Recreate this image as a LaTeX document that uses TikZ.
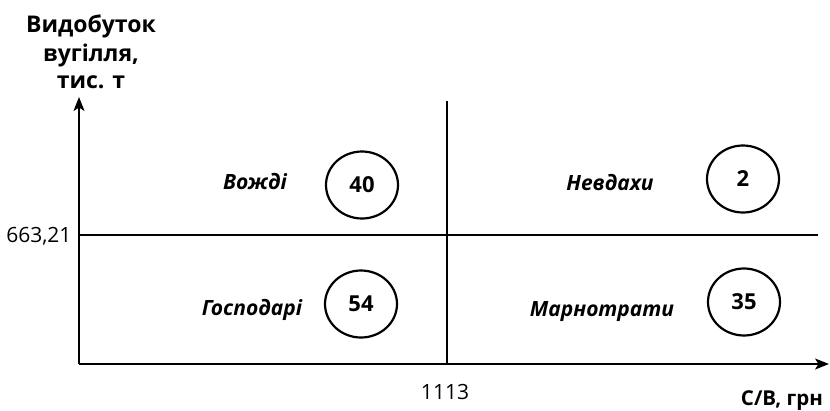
\documentclass[tikz,border=0pt]{standalone}
\usepackage{fontspec}
\setmainfont{Open Sans}
\usetikzlibrary{arrows.meta,shapes.geometric}
\begin{document}
\begin{tikzpicture}[x=1pt,y=-1pt,
  ax/.style={line width=1.4pt},
  arr/.style={ax,-{Stealth[length=14pt,width=11pt,inset=3.5pt]}},
  circ/.style={ellipse,draw,line width=2.2pt,minimum width=72pt,minimum height=67pt,inner sep=0pt,font=\fontsize{22}{26}\selectfont\bfseries},
  quad/.style={font=\fontsize{21}{25}\selectfont\bfseries\itshape,anchor=base},
  lbl/.style={font=\fontsize{21}{25}\selectfont},
  ttl/.style={font=\fontsize{23}{27}\selectfont\bfseries},
  xttl/.style={font=\fontsize{20.5}{24}\selectfont\bfseries}]
\useasboundingbox (0,0) rectangle (830,410);
\coordinate (O) at (79,364);
\coordinate (ytip) at (79,97);
\coordinate (xtip) at (829,364);
\coordinate (hl) at (79,235);
\coordinate (hr) at (818,235);
\coordinate (vt) at (447,101);
\coordinate (vb) at (447,364);
\draw[arr] (O) -- (ytip);
\draw[arr] (O) -- (xtip);
\draw[ax] (hl) -- (hr);
\draw[ax] (vt) -- (vb);
\node[ttl,anchor=base] (t1) at (91,32) {Видобуток};
\node[ttl,anchor=base] (t2) at (91,61) {вугілля,};
\node[ttl,anchor=base] (t3) at (91,88) {тис. т};
\node[lbl,anchor=base east] (yv) at (75,242) {663,21};
\node[lbl,anchor=base] (xv) at (445,399) {1113};
\node[xttl,anchor=base] (xl) at (782,405) {С/В, грн};
\node[quad] (q1) at (255,189) {Вожді};
\node[quad] (q2) at (610,190) {Невдахи};
\node[quad] (q3) at (252,315) {Господарі};
\node[quad] (q4) at (602,316) {Марнотрати};
\node[circ] (c1) at (362,185) {40};
\node[circ] (c2) at (743,179) {2};
\node[circ] (c3) at (361,304) {54};
\node[circ] (c4) at (744,302) {35};
\end{tikzpicture}
\end{document}
